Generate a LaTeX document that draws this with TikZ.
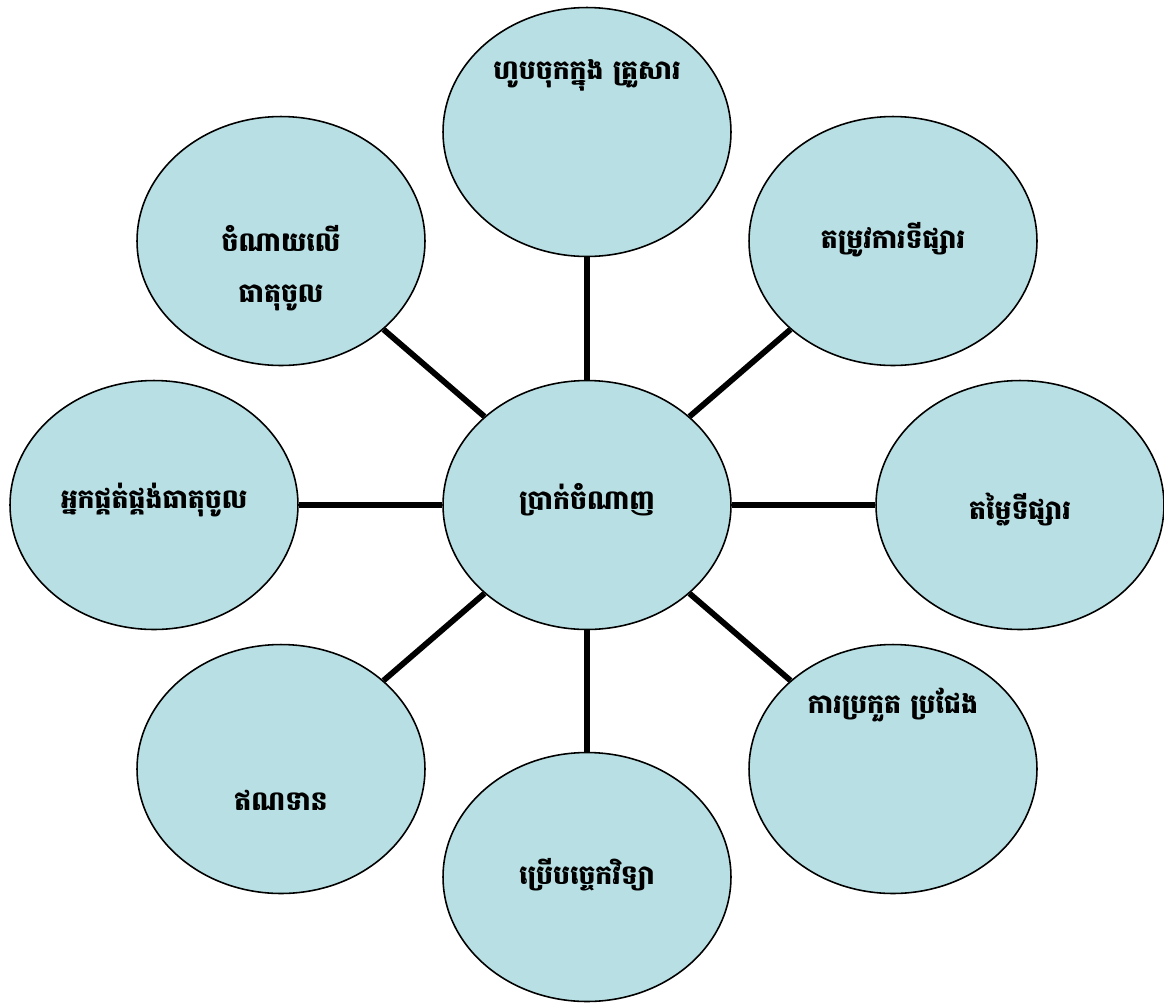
\documentclass[tikz,border=0pt]{standalone}
\usepackage{fontspec}
\usetikzlibrary{shapes.geometric}
\newfontfamily\khmerfont[Script=Khmer]{Battambang}
\definecolor{bubble}{RGB}{184,223,227}
\begin{document}
\begin{tikzpicture}[x=0.02cm,y=-0.02cm,
  bubblestyle/.style={ellipse,draw=black,line width=0.9pt,fill=bubble,minimum width=5.76cm,minimum height=4.98cm,inner sep=0pt},
  spoke/.style={line width=3.3pt,black},
  lbl/.style={font=\khmerfont\bfseries\fontsize{15.2}{29}\selectfont,align=center,inner sep=0pt}]
\useasboundingbox (0,0) rectangle (1164,1002);
\node[bubblestyle] (c) at (587,505) {};
\node[bubblestyle] (t) at (587,132) {};
\node[bubblestyle] (tr) at (893,241) {};
\node[bubblestyle] (r) at (1020,505) {};
\node[bubblestyle] (br) at (893,769) {};
\node[bubblestyle] (b) at (587,877) {};
\node[bubblestyle] (bl) at (281,769) {};
\node[bubblestyle] (l) at (154,505) {};
\node[bubblestyle] (tl) at (281,241) {};
\foreach \n in {t,tr,r,br,b,bl,l,tl} \draw[spoke] (c) -- (\n);
\node[lbl] (ct) at (587,500) {ប្រាក់ចំណាញ};
\node[lbl] (tt) at (587,75) {ហូបចុកក្នុង គ្រួសារ};
\node[lbl] (trt) at (893,240) {តម្រូវការទីផ្សារ};
\node[lbl] (rt) at (1020,510) {តម្លៃទីផ្សារ};
\node[lbl] (brt) at (893,705) {ការប្រកួត ប្រជែង};
\node[lbl] (bt) at (587,875) {ប្រើបច្ចេកវិទ្យា};
\node[lbl] (blt) at (281,800) {ឥណទាន};
\node[lbl] (lt) at (154,500) {អ្នកផ្គត់ផ្គង់ធាតុចូល};
\node[lbl] (tlt) at (281,268) {ចំណាយលើ\\ធាតុចូល};
\end{tikzpicture}
\end{document}
